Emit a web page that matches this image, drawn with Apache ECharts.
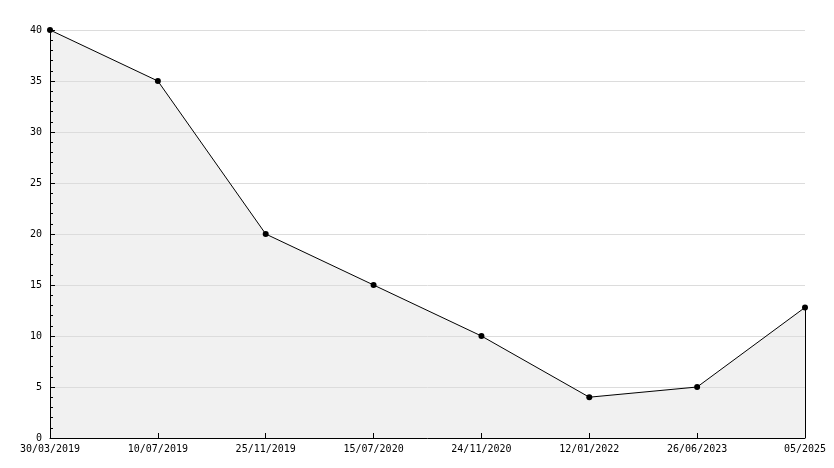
<!DOCTYPE html>
<html><head><meta charset="utf-8">
<script src="https://cdn.jsdelivr.net/npm/echarts@6/dist/echarts.min.js"></script>
<style>html,body{margin:0;padding:0;background:#fff}#c{width:834px;height:468px}</style>
</head><body><div id="c"></div>
<script>
const categories = ['30/03/2019','10/07/2019','25/11/2019','15/07/2020','24/11/2020','12/01/2022','26/06/2023','05/2025'];
const values = [40, 35, 20, 15, 10, 4, 5, 12.8];
const yTicks = {min: 0, max: 40, interval: 5};

const chart = echarts.init(document.getElementById('c'), null, {renderer: 'canvas'});
const font = {fontFamily: 'DejaVu Sans Mono', fontSize: 10, color: '#000'};
chart.setOption({
  animation: false,
  grid: {left: 50, right: 29, top: 30, bottom: 30, containLabel: false},
  xAxis: {
    type: 'category', data: categories, boundaryGap: false, z: 5,
    axisLine: {lineStyle: {color: '#000', width: 1}},
    axisTick: {show: true, inside: true, length: 5, lineStyle: {color: '#000', width: 1}},
    axisLabel: Object.assign({margin: 6, interval: 0, showMinLabel: true, showMaxLabel: true}, font),
    splitLine: {show: false}
  },
  yAxis: {
    type: 'value', min: yTicks.min, max: yTicks.max, interval: yTicks.interval, z: 5,
    axisLine: {show: true, lineStyle: {color: '#000', width: 1}},
    axisTick: {show: true, inside: true, length: 5, lineStyle: {color: '#000', width: 1}},
    minorTick: {show: true, splitNumber: 5, length: 3, lineStyle: {color: '#000', width: 1}},
    axisLabel: Object.assign({margin: 8}, font),
    splitLine: {show: true, lineStyle: {color: '#dcdcdc', width: 1}}
  },
  series: [{
    type: 'line', data: values, z: 1,
    symbol: 'none',
    lineStyle: {width: 0, opacity: 0},
    areaStyle: {color: '#f1f1f1', opacity: 1}
  }, {
    type: 'line', data: values, z: 10,
    symbol: 'circle', symbolSize: 6,
    itemStyle: {color: '#000'},
    lineStyle: {color: '#000', width: 1},
    markLine: {
      silent: true, symbol: 'none', label: {show: false},
      lineStyle: {color: '#000', width: 1, type: 'solid'},
      data: [[{coord: [categories.length - 1, 0]}, {coord: [categories.length - 1, values[values.length - 1]]}]]
    }
  }]
});
</script></body></html>
